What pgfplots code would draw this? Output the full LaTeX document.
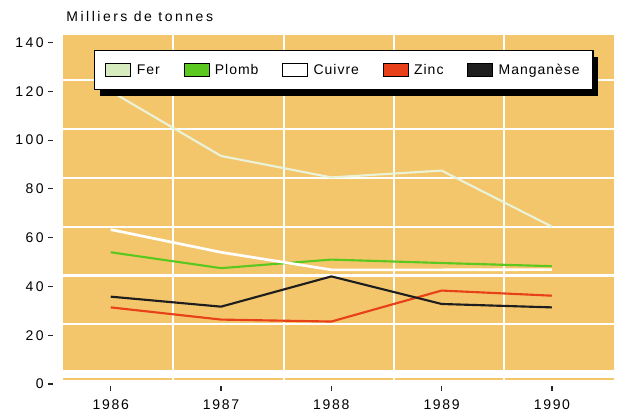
\documentclass[border=0pt]{standalone}
\usepackage{pgfplots}
\pgfplotsset{compat=1.18}
\usetikzlibrary{shadows}
\usepackage{fontspec}
\setmainfont{Liberation Sans}
\newfontfamily\tickfont{Liberation Sans}[LetterSpace=18]
\newfontfamily\xtickfont{Liberation Sans}[LetterSpace=12]
\newfontfamily\legfont{Liberation Sans}[LetterSpace=7]
\makeatletter
\tikzset{noshadow/.code={\let\tikz@preactions\pgfutil@empty}}
\makeatother
\definecolor{panel}{RGB}{244,198,108}
\definecolor{ferline}{RGB}{234,242,216}
\definecolor{ferfill}{RGB}{214,236,190}
\definecolor{plombc}{RGB}{90,200,30}
\definecolor{zincc}{RGB}{232,64,24}
\definecolor{mangc}{RGB}{30,30,30}
\begin{document}
\begin{tikzpicture}
\begin{axis}[
  x=82.725pt, y=1.829pt,
  xmin=1985.477, xmax=1990.58, ymin=-0.82, ymax=150,
  axis lines*=left, axis line style={draw=none},
  xtick={1986,1987,1988,1989,1990},
  xticklabels={1986,1987,1988,1989,1990},
  ytick={0,20,40,60,80,100,120,140},
  tick align=outside, major tick length=3.5pt,
  tick style={black!85, line width=0.9pt},
  /pgf/number format/assume math mode=true,
  yticklabel style={font=\tickfont\fontsize{10.5}{12}\selectfont},
  xticklabel style={yshift=-3pt, font=\xtickfont\fontsize{10.5}{12}\selectfont},
  clip=false,
  legend columns=5,
  legend style={at={(axis cs:1985.849,136.9)}, anchor=north west,
    draw=black, line width=1pt, fill=white,
    inner xsep=8pt, inner ysep=8pt,
    font=\legfont\fontsize{10.5}{12}\selectfont,
    /tikz/every even column/.append style={column sep=15.8pt},
    /tikz/every odd column/.append style={column sep=2pt},
    drop shadow={opacity=1, fill=black, shadow xshift=4pt, shadow yshift=-4.5pt}},
]
% background panel
\fill[panel] (axis cs:1985.567,1.6) rectangle (axis cs:1990.567,143.2);
\fill[white] (axis cs:1985.567,2.5) rectangle (axis cs:1990.567,5.6);
\draw[white, line width=1.6pt] (axis cs:1985.567,24.5) -- (axis cs:1990.567,24.5);
\draw[white, line width=1.6pt] (axis cs:1985.567,44.5) -- (axis cs:1990.567,44.5);
\draw[white, line width=1.6pt] (axis cs:1985.567,64.5) -- (axis cs:1990.567,64.5);
\draw[white, line width=1.6pt] (axis cs:1985.567,84.5) -- (axis cs:1990.567,84.5);
\draw[white, line width=1.6pt] (axis cs:1985.567,104.5) -- (axis cs:1990.567,104.5);
\draw[white, line width=1.6pt] (axis cs:1985.567,124.5) -- (axis cs:1990.567,124.5);
\draw[white, line width=1.6pt] (axis cs:1986.567,1.6) -- (axis cs:1986.567,143.2);
\draw[white, line width=1.6pt] (axis cs:1987.567,1.6) -- (axis cs:1987.567,143.2);
\draw[white, line width=1.6pt] (axis cs:1988.567,1.6) -- (axis cs:1988.567,143.2);
\draw[white, line width=1.6pt] (axis cs:1989.567,1.6) -- (axis cs:1989.567,143.2);
\node[anchor=west, inner sep=0pt, font=\tickfont\fontsize{10.5}{12}\selectfont] at (axis cs:1985.595,150.5) {Milliers de tonnes};

\addplot[ferline, line width=1.6pt, legend image code/.code={\draw[draw=black, line width=0.8pt, fill=ferfill, noshadow] (0pt,-4.9pt) rectangle (18.75pt,4.9pt);}]
  coordinates {(1986,120) (1987,93.5) (1988,84.7) (1989,87.5) (1990,64.5)};
\addlegendentry{Fer}
\addplot[plombc, line width=1.6pt, legend image code/.code={\draw[draw=black, line width=0.8pt, fill=plombc, noshadow] (0pt,-4.9pt) rectangle (18.75pt,4.9pt);}]
  coordinates {(1986,54) (1987,47.5) (1988,51) (1989,49.6) (1990,48.3)};
\addlegendentry{Plomb}
\addplot[white, line width=2pt, legend image code/.code={\draw[draw=black, line width=0.8pt, fill=white, noshadow] (0pt,-4.9pt) rectangle (18.75pt,4.9pt);}]
  coordinates {(1986,63.3) (1987,54) (1988,46.8) (1989,46.8) (1990,46.9)};
\addlegendentry{Cuivre}
\addplot[zincc, line width=1.6pt, legend image code/.code={\draw[draw=black, line width=0.8pt, fill=zincc, noshadow] (0pt,-4.9pt) rectangle (18.75pt,4.9pt);}]
  coordinates {(1986,31.4) (1987,26.4) (1988,25.6) (1989,38.3) (1990,36.2)};
\addlegendentry{Zinc}
\addplot[mangc, line width=1.6pt, legend image code/.code={\draw[draw=black, line width=0.8pt, fill=mangc, noshadow] (0pt,-4.9pt) rectangle (18.75pt,4.9pt);}]
  coordinates {(1986,35.8) (1987,31.7) (1988,44.1) (1989,32.8) (1990,31.4)};
\addlegendentry{Manganèse}

\path (axis cs:1984.996,-11.89) rectangle (axis cs:1990.590,157.45);
\end{axis}
\end{tikzpicture}
\end{document}
